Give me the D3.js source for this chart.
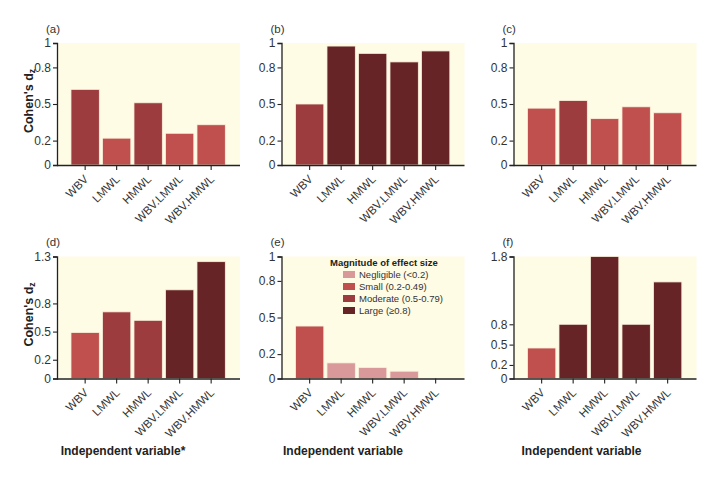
<!DOCTYPE html>
<html>
<head>
<meta charset="utf-8">
<script src="https://cdn.jsdelivr.net/npm/d3@7"></script>
<style>
  html, body { margin: 0; padding: 0; background: #ffffff; }
  svg { display: block; font-family: "Liberation Sans", Arial, sans-serif; }
</style>
</head>
<body>
<svg id="chart" width="715" height="479"></svg>
<script>
// ---------- data ----------
const categories = ["WBV", "LMWL", "HMWL", "WBV.LMWL", "WBV.HMWL"];
const valuesA = [0.62, 0.22, 0.51, 0.26, 0.33];
const valuesB = [0.50, 0.975, 0.915, 0.845, 0.935];
const valuesC = [0.466, 0.528, 0.38, 0.477, 0.428];
const valuesD = [0.49, 0.71, 0.62, 0.945, 1.245];
const valuesE = [0.43, 0.128, 0.09, 0.06, 0.0];
const valuesF = [0.45, 0.80, 1.80, 0.80, 1.425];
const ticksTop = [0, 0.2, 0.5, 0.8, 1];
const ticksD = [0, 0.2, 0.5, 0.8, 1.3];
const ticksE = [0, 0.2, 0.5, 0.8, 1];
const ticksF = [0, 0.2, 0.5, 0.8, 1.8];
const panelLabels = ["(a)", "(b)", "(c)", "(d)", "(e)", "(f)"];
const magnitudeLabels = ["Negligible (<0.2)", "Small (0.2-0.49)", "Moderate (0.5-0.79)", "Large (\u22650.8)"];
const magnitudeThresholds = [0.2, 0.5, 0.8];
const magnitudeColors = ["#d9999a", "#c0504d", "#9c3c3e", "#662426"];

// ---------- layout ----------
const svg = d3.select("#chart");
const colX = [57, 281.5, 513.5];
const rowTop = [43, 256.5];
const plotW = 183, plotH = 122;
const bg = "#fffce6";
const textColor = "#222";

const color = d3.scaleThreshold().domain(magnitudeThresholds).range(magnitudeColors);

const panels = [
  { vals: valuesA, ticks: ticksTop, col: 0, row: 0 },
  { vals: valuesB, ticks: ticksTop, col: 1, row: 0 },
  { vals: valuesC, ticks: ticksTop, col: 2, row: 0 },
  { vals: valuesD, ticks: ticksD, col: 0, row: 1 },
  { vals: valuesE, ticks: ticksE, col: 1, row: 1 },
  { vals: valuesF, ticks: ticksF, col: 2, row: 1 }
];

panels.forEach((p, i) => {
  const x0 = colX[p.col], top = rowTop[p.row], bottom = top + plotH;
  const g = svg.append("g");

  g.append("rect").attr("x", x0).attr("y", top).attr("width", plotW).attr("height", plotH).attr("fill", bg);

  const x = d3.scaleBand().domain(categories)
    .range([x0 + 12.4, x0 + 12.4 + 157.5])
    .paddingInner(0.1).paddingOuter(0.05);
  const y = d3.scaleLinear().domain([0, d3.max(p.ticks)]).range([bottom, top]);

  g.selectAll("rect.bar").data(categories.map((c, j) => ({ c, v: p.vals[j] })))
    .enter().append("rect").attr("class", "bar")
    .attr("x", d => x(d.c)).attr("width", x.bandwidth())
    .attr("y", d => y(d.v)).attr("height", d => bottom - y(d.v))
    .attr("fill", d => color(d.v))
    .attr("stroke", "#fbf1dc").attr("stroke-width", 0.8);

  // y axis
  const yAxis = d3.axisLeft(y).tickValues(p.ticks).tickSize(4).tickPadding(2)
    .tickFormat(d => String(d));
  const ya = g.append("g").attr("transform", `translate(${x0},0)`).call(yAxis);
  ya.select(".domain").attr("stroke", "#222").attr("stroke-width", 1.3);
  ya.selectAll(".tick line").attr("stroke", "#222").attr("stroke-width", 1.1);
  ya.selectAll(".tick text").attr("font-size", 12).attr("fill", "#333")
    .attr("font-family", "Liberation Sans, Arial, sans-serif");

  // x axis
  const xAxis = d3.axisBottom(x).tickSize(5).tickSizeOuter(0);
  const xa = g.append("g").attr("transform", `translate(0,${bottom})`).call(xAxis);
  xa.select(".domain").attr("d", `M${x0},0.5H${x0 + plotW}`).attr("stroke", "#222").attr("stroke-width", 1.3);
  xa.selectAll(".tick line").attr("stroke", "#222").attr("stroke-width", 1.1);
  xa.selectAll(".tick text")
    .attr("font-size", 11.5).attr("fill", "#333")
    .attr("font-family", "Liberation Sans, Arial, sans-serif")
    .attr("text-anchor", "end")
    .attr("y", 0).attr("dy", "0.35em")
    .attr("transform", "translate(1,12) rotate(-45)");

  // panel label
  g.append("text").attr("x", x0 - 11).attr("y", top - 10.5)
    .attr("font-size", 11.5).attr("fill", "#333").text(panelLabels[i]);
});

// y titles
[0, 1].forEach(r => {
  const mid = rowTop[r] + plotH / 2 - 3;
  const t = svg.append("text")
    .attr("transform", `translate(33,${mid}) rotate(-90)`)
    .attr("text-anchor", "middle")
    .attr("font-size", 12.5).attr("font-weight", "bold").attr("fill", textColor);
  t.append("tspan").text("Cohen's d");
  t.append("tspan").attr("font-size", 8.5).attr("dy", "0.25em").text("z");
});

// x titles
const xTitles = ["Independent variable*", "Independent variable", "Independent variable"];
const xTitleOffset = [66, 61.5, 68];
xTitles.forEach((s, c) => {
  svg.append("text").attr("x", colX[c] + xTitleOffset[c]).attr("y", 455)
    .attr("text-anchor", "middle").attr("font-size", 12).attr("font-weight", "bold")
    .attr("fill", textColor).text(s);
});

// legend in panel (e)
const lg = svg.append("g");
lg.append("text").attr("x", 330).attr("y", 265.5).attr("font-size", 9.5)
  .attr("font-weight", "bold").attr("fill", textColor).text("Magnitude of effect size");
magnitudeLabels.forEach((s, k) => {
  const cy = 274.5 + k * 12;
  lg.append("rect").attr("x", 343).attr("y", cy - 3.5).attr("width", 12).attr("height", 7)
    .attr("fill", magnitudeColors[k]);
  lg.append("text").attr("x", 359).attr("y", cy + 3.3).attr("font-size", 9.5)
    .attr("fill", "#333").text(s);
});
</script>
</body>
</html>
